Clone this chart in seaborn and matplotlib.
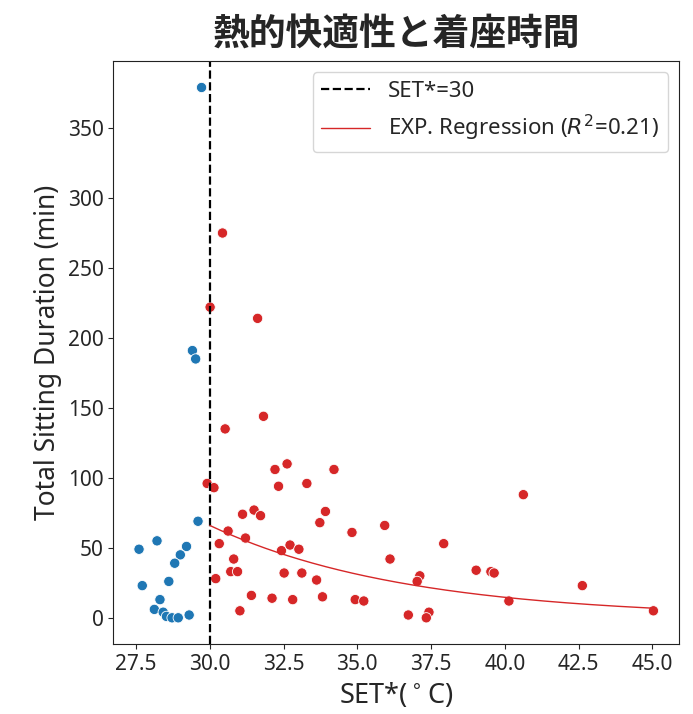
import numpy as np
import pandas as pd
import seaborn as sns
import matplotlib.pyplot as plt

# SET* (deg C) and total sitting duration (min)
cool_set = [29.72, 29.41, 29.52, 29.60, 27.60, 28.21, 29.21, 29.00, 28.81,
            27.71, 28.61, 28.31, 28.12, 28.42, 28.53, 28.72, 28.93, 29.30]
cool_dur = [379, 191, 185, 69, 49, 55, 51, 45, 39,
            23, 26, 13, 6, 4, 1, 0, 0, 2]

warm_set = [30.43, 30.01, 31.62, 31.82, 30.52, 29.91, 30.14, 30.62, 31.11, 31.50,
            31.72, 31.21, 30.32, 30.81, 30.71, 30.94, 30.20, 31.41, 31.02, 32.21,
            32.62, 32.33, 33.29, 32.43, 32.72, 33.02, 32.52, 33.12, 32.11, 32.81,
            34.21, 33.92, 33.73, 34.82, 35.93, 36.11, 33.62, 33.82, 34.93, 35.22,
            40.63, 37.93, 37.12, 37.03, 39.03, 39.53, 39.64, 42.63, 40.14, 45.04,
            36.73, 37.43, 37.34]
warm_dur = [275, 222, 214, 144, 135, 96, 93, 62, 74, 77,
            73, 57, 53, 42, 33, 33, 28, 16, 5, 106,
            110, 94, 96, 48, 52, 49, 32, 32, 14, 13,
            106, 76, 68, 61, 66, 42, 27, 15, 13, 12,
            88, 53, 30, 26, 34, 33, 32, 23, 12, 5,
            2, 4, 0]

threshold = 30
# exponential fit y = a * exp(b * (x - 30)), R^2 = 0.21
exp_a = 66.0
exp_b = -0.1505
r2 = 0.21

df = pd.DataFrame({
    "set": cool_set + warm_set,
    "dur": cool_dur + warm_dur,
    "group": ["cool"] * len(cool_set) + ["warm"] * len(warm_set),
})

sns.set_style("ticks")
plt.rcParams['font.family'] = ['Noto Sans', 'Noto Sans CJK JP', 'DejaVu Sans']

fig = plt.figure(figsize=(6.93, 7.14), dpi=100)
ax = fig.add_axes([0.1635, 0.0976, 0.8165, 0.817])

sns.scatterplot(data=df, x="set", y="dur", hue="group",
                palette={"cool": "#1f77b4", "warm": "#d62728"},
                s=55, legend=False, ax=ax)

ax.axvline(threshold, color="black", linestyle="--", linewidth=1.6,
           label=f"SET*={threshold}")

xs = np.linspace(threshold, max(warm_set), 200)
ax.plot(xs, exp_a * np.exp(exp_b * (xs - threshold)), color="#d62728",
        linewidth=1, label=f"EXP. Regression ($R^2$={r2})")

ax.set_xticks([27.5, 30.0, 32.5, 35.0, 37.5, 40.0, 42.5, 45.0])
ax.set_yticks(range(0, 351, 50))
ax.tick_params(labelsize=15)
for s in ax.spines.values():
    s.set_color("#222222")

ax.set_xlabel("SET*($^\\circ$C)", fontsize=19.5)
ax.set_ylabel("Total Sitting Duration (min)", fontsize=19)
ax.set_title("熱的快適性と着座時間", fontsize=26.5, fontweight="bold",
             family=['Noto Sans CJK JP', 'DejaVu Sans'], pad=12)
ax.legend(loc="upper right", fontsize=16, handlelength=2.2)

fig.savefig("out.png", dpi=100)
